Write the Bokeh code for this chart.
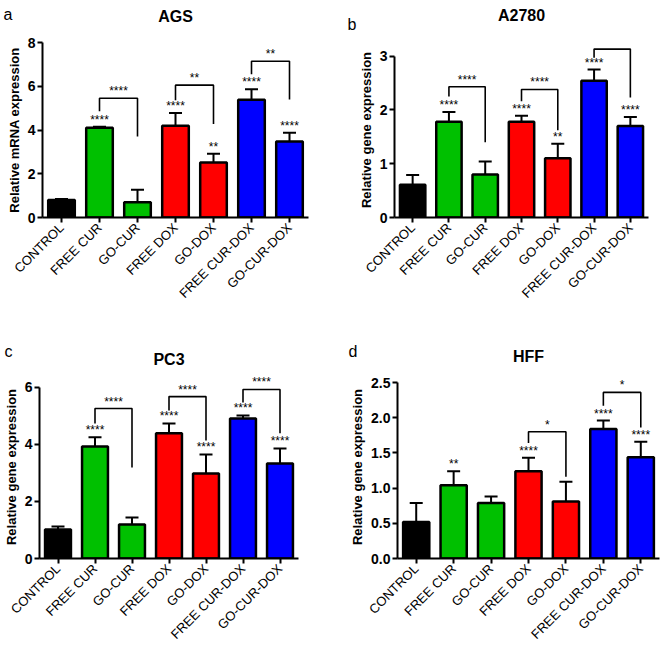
import math
from bokeh.plotting import figure
from bokeh.layouts import column, row
from bokeh.models import (ColumnDataSource, Whisker, TeeHead, Title, Label, FixedTicker,
                          PrintfTickFormatter)
from bokeh.transform import dodge
from bokeh.core.properties import value
from bokeh.embed import file_html
from bokeh.resources import INLINE

FONT = "Liberation Sans"

cats = ["CONTROL", "FREE CUR", "GO-CUR", "FREE DOX", "GO-DOX", "FREE CUR-DOX", "GO-CUR-DOX"]
colors = ["#000000", "#00c000", "#00c000", "#ff0000", "#ff0000", "#0000ff", "#0000ff"]

# a: AGS
ags_mean = [0.80, 4.10, 0.70, 4.20, 2.52, 5.38, 3.47]
ags_err = [0.05, 0.05, 0.57, 0.58, 0.40, 0.48, 0.40]
ags_sig = ["", "****", "", "****", "**", "****", "****"]
ags_br_left = ["FREE CUR", "FREE DOX", "FREE CUR-DOX"]
ags_br_right = ["GO-CUR", "GO-DOX", "GO-CUR-DOX"]
ags_br_y = [5.45, 6.05, 7.14]
ags_br_ly = [4.86, 5.36, 6.55]
ags_br_ry = [3.70, 4.27, 5.40]
ags_br_lab = ["****", "**", "**"]
ags_ticks = [0, 2, 4, 6, 8]

# b: A2780
a2780_mean = [0.61, 1.78, 0.80, 1.78, 1.10, 2.54, 1.70]
a2780_err = [0.18, 0.18, 0.24, 0.11, 0.27, 0.21, 0.17]
a2780_sig = ["", "****", "", "****", "**", "****", "****"]
a2780_br_left = ["FREE CUR", "FREE DOX", "FREE CUR-DOX"]
a2780_br_right = ["GO-CUR", "GO-DOX", "GO-CUR-DOX"]
a2780_br_y = [2.43, 2.38, 3.13]
a2780_br_ly = [2.25, 2.16, 2.97]
a2780_br_ry = [1.40, 1.62, 2.23]
a2780_br_lab = ["****", "****", "****"]
a2780_ticks = [0, 1, 2, 3]

# c: PC3
pc3_mean = [1.02, 3.93, 1.19, 4.39, 2.98, 4.91, 3.33]
pc3_err = [0.10, 0.32, 0.25, 0.35, 0.67, 0.11, 0.53]
pc3_sig = ["", "****", "", "****", "****", "****", "****"]
pc3_br_left = ["FREE CUR", "FREE DOX", "FREE CUR-DOX"]
pc3_br_right = ["GO-CUR", "GO-DOX", "GO-CUR-DOX"]
pc3_br_y = [5.26, 5.68, 5.93]
pc3_br_ly = [4.74, 5.19, 5.47]
pc3_br_ry = [3.19, 4.14, 4.39]
pc3_br_lab = ["****", "****", "****"]
pc3_ticks = [0, 2, 4, 6]

# d: HFF
hff_mean = [0.52, 1.04, 0.79, 1.24, 0.81, 1.84, 1.44]
hff_err = [0.27, 0.20, 0.09, 0.19, 0.28, 0.12, 0.22]
hff_sig = ["", "**", "", "****", "", "****", "****"]
hff_br_left = ["FREE DOX", "FREE CUR-DOX"]
hff_br_right = ["GO-DOX", "GO-CUR-DOX"]
hff_br_y = [1.80, 2.36]
hff_br_ly = [1.64, 2.17]
hff_br_ry = [1.16, 1.86]
hff_br_lab = ["*", "*"]
hff_ticks = [0, 0.5, 1.0, 1.5, 2.0, 2.5]


def panel(title, letter, means, errs, sig, bl, br, by, bly, bry, blab, ticks, ylabel,
          W, H, left, right, top, bottom, yend, title_standoff, lx, ly, letter_inner,
          fmt=None):
    p = figure(x_range=cats, y_range=(0, yend), width=W, height=H,
               output_backend="svg", toolbar_location=None,
               min_border_left=left, min_border_right=right,
               min_border_top=top, min_border_bottom=bottom)
    p.outline_line_color = None
    p.xgrid.grid_line_color = None
    p.ygrid.grid_line_color = None

    upper = [m + e for m, e in zip(means, errs)]
    src = ColumnDataSource(dict(x=cats, top=means, upper=upper, color=colors, sig=sig))

    w = Whisker(base="x", lower="top", upper="upper", source=src, dimension="height",
                line_color="black", line_width=2,
                upper_head=TeeHead(size=13, line_color="black", line_width=2),
                lower_head=None, level="glyph")
    p.vbar(x="x", top="top", width=0.7, source=src, fill_color="color",
           line_color="black", line_width=2.5)
    p.add_layout(w)

    p.text(x="x", y="upper", text="sig", source=src, text_align="center",
           text_baseline="bottom", text_font=value(FONT), text_font_size="12px",
           text_color="black")

    xs = [[a, a, b, b] for a, b in zip(bl, br)]
    ys = [[l, y, y, r] for l, y, r in zip(bly, by, bry)]
    p.multi_line(xs=xs, ys=ys, line_color="black", line_width=1.6)
    bsrc = ColumnDataSource(dict(x1=bl, y=by, lab=blab))
    p.text(x=dodge("x1", 0.5, range=p.x_range), y="y", text="lab", source=bsrc,
           text_align="center", text_baseline="bottom", text_font=value(FONT),
           text_font_size="12px", text_color="black")

    for ax in (p.xaxis, p.yaxis):
        ax.axis_line_width = 2
        ax.axis_line_color = "black"
        ax.major_tick_line_width = 2
        ax.major_tick_line_color = "black"
        ax.major_tick_out = 5
        ax.major_tick_in = 0
        ax.minor_tick_line_color = None
        ax.major_label_text_font = FONT
        ax.major_label_text_color = "black"
    p.xaxis.major_label_orientation = math.pi / 4
    p.xaxis.major_label_text_font_size = "13px"
    p.xaxis.major_label_standoff = 3

    p.yaxis.ticker = FixedTicker(ticks=ticks)
    p.yaxis.bounds = (0, ticks[-1])
    if fmt:
        p.yaxis.formatter = PrintfTickFormatter(format=fmt)
    p.yaxis.major_label_text_font_size = "14px"
    p.yaxis.major_label_text_font_style = "bold"
    p.yaxis.major_label_standoff = 2
    p.yaxis.axis_label = ylabel
    p.yaxis.axis_label_text_font = FONT
    p.yaxis.axis_label_text_font_size = "13px"
    p.yaxis.axis_label_text_font_style = "bold"
    p.yaxis.axis_label_text_color = "black"
    p.yaxis.axis_label_standoff = 3

    p.title.text = ""
    main = Title(text=title, align="center", standoff=title_standoff,
                 text_font=FONT, text_font_size="16px", text_font_style="bold",
                 text_color="black")
    lab = Label(x=lx, y=ly, x_units="screen", y_units="screen", text=letter,
                text_font=FONT, text_font_size="16px", text_baseline="alphabetic",
                text_align="left", text_color="black")
    if letter_inner:
        p.add_layout(lab, "above")
        p.add_layout(main, "above")
    else:
        p.add_layout(main, "above")
        p.add_layout(lab, "above")
    return p


pa = panel("AGS", "a", ags_mean, ags_err, ags_sig, ags_br_left, ags_br_right,
           ags_br_y, ags_br_ly, ags_br_ry, ags_br_lab, ags_ticks,
           "Relative mRNA expression",
           W=331, H=314, left=42, right=23, top=42, bottom=97, yend=8.0,
           title_standoff=2, lx=-39, ly=28, letter_inner=True)
pb = panel("A2780", "b", a2780_mean, a2780_err, a2780_sig, a2780_br_left, a2780_br_right,
           a2780_br_y, a2780_br_ly, a2780_br_ry, a2780_br_lab, a2780_ticks,
           "Relative gene expression",
           W=331, H=314, left=63, right=14, top=42, bottom=92, yend=3.253,
           title_standoff=4, lx=-47, ly=18, letter_inner=True)
pc = panel("PC3", "c", pc3_mean, pc3_err, pc3_sig, pc3_br_left, pc3_br_right,
           pc3_br_y, pc3_br_ly, pc3_br_ry, pc3_br_lab, pc3_ticks,
           "Relative gene expression",
           W=331, H=337, left=38, right=33, top=61, bottom=93, yend=6.42,
           title_standoff=16, lx=-35, ly=-11, letter_inner=False)
pd_ = panel("HFF", "d", hff_mean, hff_err, hff_sig, hff_br_left, hff_br_right,
            hff_br_y, hff_br_ly, hff_br_ry, hff_br_lab, hff_ticks,
            "Relative gene expression",
            W=331, H=337, left=66, right=3, top=61, bottom=93, yend=2.60,
            title_standoff=22, lx=-49, ly=-17, letter_inner=False, fmt="%.1f")

layout = column(row(pa, pb), row(pc, pd_))
open("out.html", "w").write(file_html(layout, INLINE))
